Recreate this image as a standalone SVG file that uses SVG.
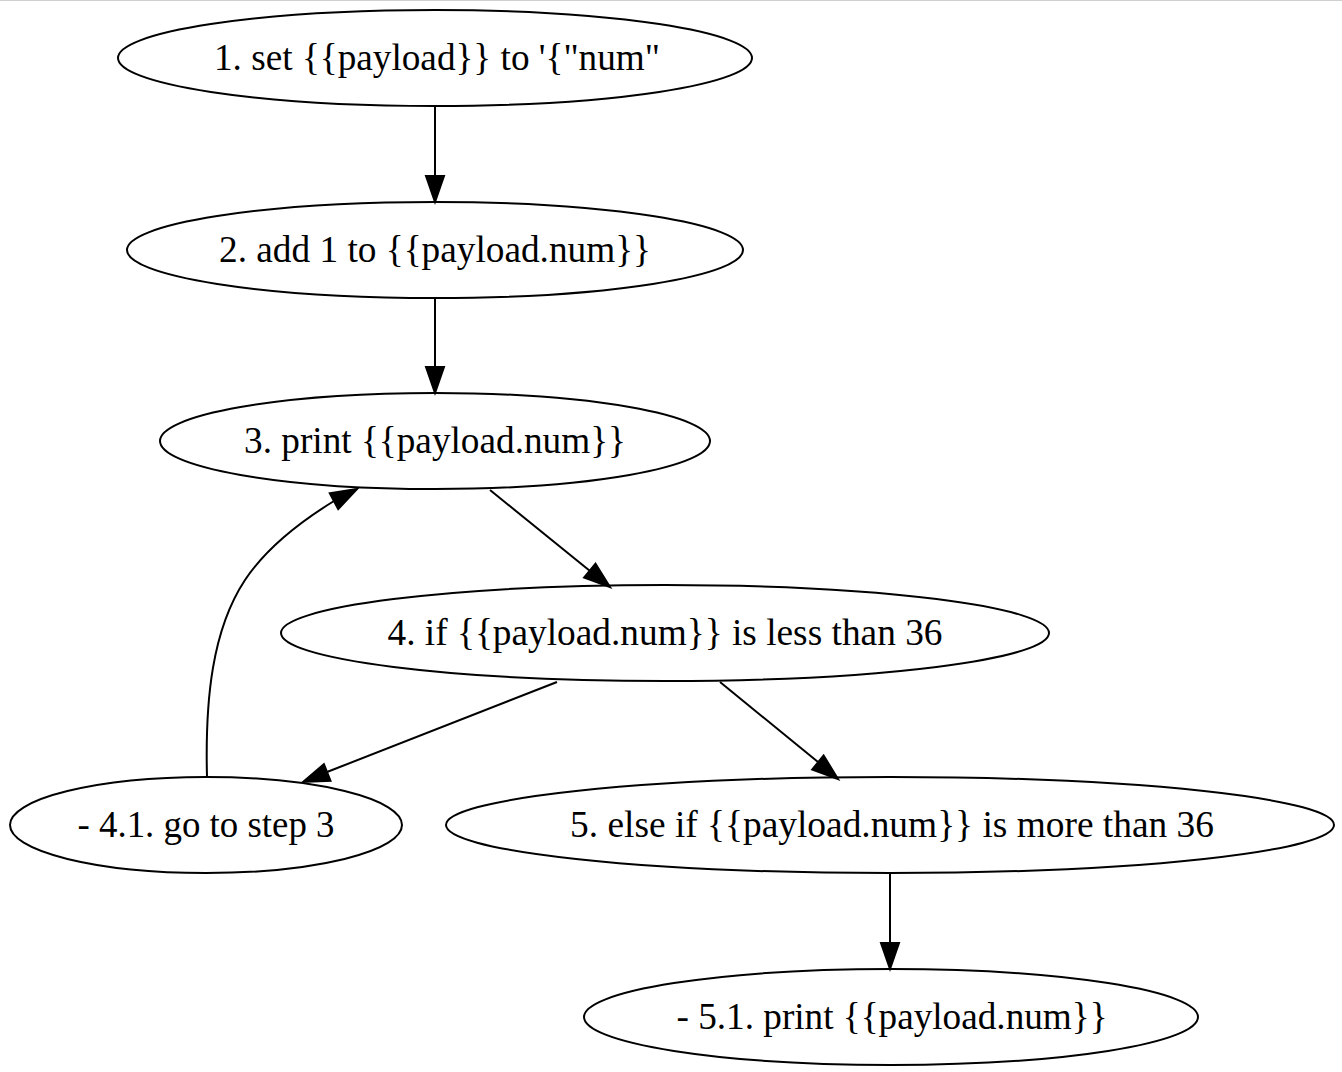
<svg xmlns="http://www.w3.org/2000/svg" width="1342" height="1072" viewBox="0 0 1342 1072">
<style>
.n ellipse{fill:none;stroke:#000;stroke-width:2}
.n text{font-family:"Liberation Serif","Times New Roman",serif;font-size:37px;fill:#000;text-anchor:middle}
.e path{fill:none;stroke:#000;stroke-width:2}
.e polygon{fill:#000;stroke:#000;stroke-width:2}
</style>
<rect x="0" y="0" width="1342" height="1072" fill="#fff"/>
<rect x="0" y="0" width="1342" height="1" fill="#cfcfcf"/>
<g id="edges" class="e">
<path d="M435,106 L435,176"/><polygon points="435,202 426,176 444,176"/>
<path d="M435,298 L435,367"/><polygon points="435,393 426,367 444,367"/>
<path d="M490,490 L590,571"/><polygon points="610,587 584.1,577.6 595.5,563.6"/>
<path d="M557,682 L327,772"/><polygon points="303,782 323.9,764.1 330.5,780.9"/>
<path d="M720,682 L818,762"/><polygon points="838,779 812.2,769.5 823.6,755.5"/>
<path d="M890,873 L890,943"/><polygon points="890,969 881,943 899,943"/>
<path d="M207,777 C205,700 212,630 245,580 C265,550 295,525 334,501"/><polygon points="357,489 338.2,509.1 329.8,493.3"/>
</g>
<g id="n1" class="n"><ellipse cx="435" cy="58" rx="317" ry="48"/><text x="437" y="70" textLength="446" lengthAdjust="spacingAndGlyphs">1. set {{payload}} to '{"num"</text></g>
<g id="n2" class="n"><ellipse cx="435" cy="250" rx="308" ry="48"/><text x="435" y="262" textLength="432" lengthAdjust="spacingAndGlyphs">2. add 1 to {{payload.num}}</text></g>
<g id="n3" class="n"><ellipse cx="435" cy="441" rx="275" ry="48"/><text x="435" y="453" textLength="382" lengthAdjust="spacingAndGlyphs">3. print {{payload.num}}</text></g>
<g id="n4" class="n"><ellipse cx="665" cy="633" rx="384" ry="48"/><text x="665" y="645" textLength="555" lengthAdjust="spacingAndGlyphs">4. if {{payload.num}} is less than 36</text></g>
<g id="n41" class="n"><ellipse cx="206" cy="825" rx="196" ry="48"/><text x="206" y="837" textLength="257" lengthAdjust="spacingAndGlyphs">- 4.1. go to step 3</text></g>
<g id="n5" class="n"><ellipse cx="890" cy="825" rx="444" ry="48"/><text x="892" y="837" textLength="644" lengthAdjust="spacingAndGlyphs">5. else if {{payload.num}} is more than 36</text></g>
<g id="n51" class="n"><ellipse cx="891" cy="1017" rx="307" ry="48"/><text x="892" y="1029" textLength="431" lengthAdjust="spacingAndGlyphs">- 5.1. print {{payload.num}}</text></g>
</svg>
